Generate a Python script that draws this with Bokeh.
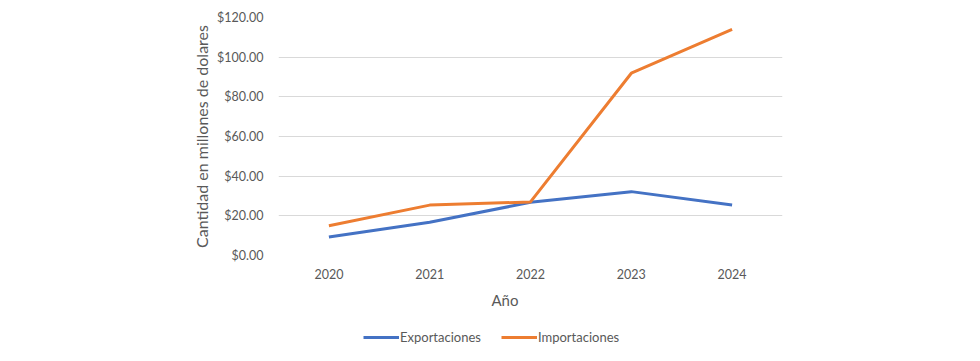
from bokeh.plotting import figure
from bokeh.layouts import column
from bokeh.models import Range1d, Legend, LegendItem, NumeralTickFormatter, FixedTicker, Title
from bokeh.embed import file_html
from bokeh.resources import INLINE

years = ["2020", "2021", "2022", "2023", "2024"]
exportaciones = [9.3, 16.8, 26.8, 32.2, 25.5]
importaciones = [15.0, 25.4, 27.0, 91.9, 114.0]
y_ticks = [0, 20, 40, 60, 80, 100, 120]

FONT = "Lato"
TXT = "#595959"
BLUE = "#4472C4"
ORANGE = "#ED7D31"

p = figure(width=964, height=320, x_range=years, y_range=Range1d(0, 120),
           output_backend="svg", toolbar_location=None,
           min_border_left=278, min_border_right=182,
           min_border_top=17, min_border_bottom=65)
p.outline_line_color = None
p.background_fill_color = "white"
p.border_fill_color = "white"

p.line(years, exportaciones, line_color=BLUE, line_width=3)
p.line(years, importaciones, line_color=ORANGE, line_width=3)

p.xgrid.grid_line_color = None
p.ygrid.grid_line_color = "#D9D9D9"
p.ygrid.grid_line_width = 1

p.yaxis.ticker = FixedTicker(ticks=y_ticks)
p.yaxis.formatter = NumeralTickFormatter(format="$0,0.00")
for ax in (p.xaxis[0], p.yaxis[0]):
    ax.axis_line_color = None
    ax.major_tick_line_color = None
    ax.minor_tick_line_color = None
    ax.major_label_text_font = FONT
    ax.major_label_text_color = TXT
    ax.major_label_text_font_size = "12.5px"
    ax.axis_label_text_font = FONT
    ax.axis_label_text_color = TXT
    ax.axis_label_text_font_size = "16px"
    ax.axis_label_text_font_style = "normal"

p.yaxis.major_label_standoff = 9
p.yaxis.axis_label = "Cantidad en millones de dolares"
p.yaxis.axis_label_standoff = 3
p.xaxis.major_label_standoff = 7

xt = Title(text="Año", align="left", offset=213, standoff=15,
           text_font=FONT, text_color=TXT, text_font_size="15px",
           text_font_style="normal")
p.add_layout(xt, "below")

# legend strip (its own small figure so the legend is not clipped)
pl = figure(width=964, height=25, x_range=years, y_range=Range1d(1000, 1001),
            output_backend="svg", toolbar_location=None,
            x_axis_type=None, y_axis_type=None, min_border=0)
pl.outline_line_color = None
pl.xgrid.grid_line_color = None
pl.ygrid.grid_line_color = None
l1 = pl.line(years, exportaciones, line_color=BLUE, line_width=3)
l2 = pl.line(years, importaciones, line_color=ORANGE, line_width=3)
legend = Legend(items=[LegendItem(label="Exportaciones", renderers=[l1]),
                       LegendItem(label="Importaciones", renderers=[l2])],
                orientation="horizontal", location=(85, 0),
                border_line_color=None, background_fill_alpha=0,
                padding=0, margin=0, spacing=20, label_standoff=1,
                glyph_width=36, glyph_height=16, label_height=16,
                label_text_font=FONT, label_text_color=TXT,
                label_text_font_size="13px")
pl.add_layout(legend, "center")

layout = column(p, pl, spacing=0)
open("out.html", "w").write(file_html(layout, INLINE))
